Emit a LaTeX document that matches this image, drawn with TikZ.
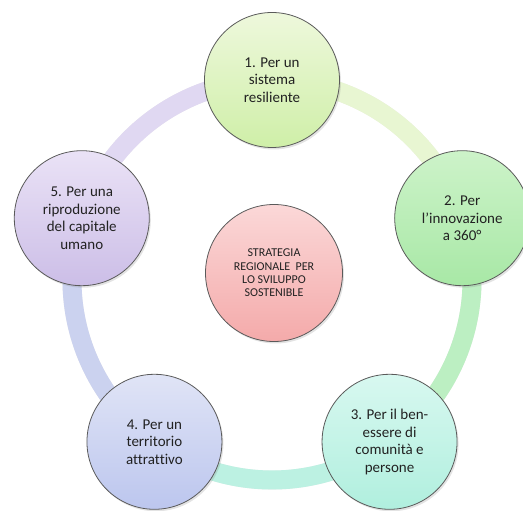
\documentclass[tikz,border=0pt]{standalone}
\usepackage{fontspec}
\setmainfont{Carlito}[Ligatures=NoCommon]
\usetikzlibrary{shadows}
\definecolor{txt}{HTML}{222222}
\definecolor{rimc}{HTML}{5A5A5A}
\definecolor{ca}{HTML}{EEF8DC}\definecolor{cab}{HTML}{CFEFA8}
\definecolor{cb}{HTML}{CDF3C9}\definecolor{cbb}{HTML}{A8E8A6}
\definecolor{cc}{HTML}{D8F8F0}\definecolor{ccb}{HTML}{B0EFDE}
\definecolor{cd}{HTML}{E0E4F6}\definecolor{cdb}{HTML}{BCC6EE}
\definecolor{ce}{HTML}{EAE2F6}\definecolor{ceb}{HTML}{CCBEE7}
\definecolor{cm}{HTML}{FBD8D8}\definecolor{cmb}{HTML}{F4AAAA}
\definecolor{rea}{HTML}{E0D8F2}
\definecolor{rab}{HTML}{E8F6D2}
\definecolor{rbc}{HTML}{BCEFC2}
\definecolor{rcd}{HTML}{BCF1E2}
\definecolor{rde}{HTML}{CBD2EF}
\begin{document}
\begin{tikzpicture}[x=1pt,y=1pt,
  bubble/.style={circle, draw=rimc, line width=0.8pt, minimum size=135pt,
    inner sep=0pt, align=center, text=txt,
    font=\fontsize{15}{17.5}\selectfont,
    drop shadow={opacity=0.22, shadow xshift=1.5pt, shadow yshift=-2pt}},
  ringseg/.style={line width=19pt},
  ringshadow/.style={line width=19pt, draw=black, opacity=0.07}
]
\useasboundingbox (0,0) rectangle (523,511);
\coordinate (O) at (272,231);
% positions of the five stations on the ring
\coordinate (p1) at ([shift={(O)}]90:200);
\coordinate (p2) at ([shift={(O)}]18:200);
\coordinate (p3) at ([shift={(O)}]-54:200);
\coordinate (p4) at ([shift={(O)}]-126:200);
\coordinate (p5) at ([shift={(O)}]162:200);
% ring shadows
\begin{scope}[shift={(1,-2.5)}]
\draw[ringshadow] (p5) arc[start angle=162, end angle=-198, radius=200];
\end{scope}
% ring segments
\draw[ringseg, draw=rea] (p5) arc[start angle=162, end angle=90, radius=200];
\draw[ringseg, draw=rab] (p1) arc[start angle=90, end angle=18, radius=200];
\draw[ringseg, draw=rbc] (p2) arc[start angle=18, end angle=-54, radius=200];
\draw[ringseg, draw=rcd] (p3) arc[start angle=-54, end angle=-126, radius=200];
\draw[ringseg, draw=rde] (p4) arc[start angle=-126, end angle=-198, radius=200];
% circles
\node[bubble, top color=ca, bottom color=cab] (n1) at (p1) {1. Per un\\sistema\\resiliente};
\node[bubble, top color=cb, bottom color=cbb] (n2) at (p2) {2. Per\\l’innovazione\\a 360°};
\node[bubble, top color=cc, bottom color=ccb] (n3) at (p3) {3. Per il ben-\\essere di\\comunità e\\persone};
\node[bubble, top color=cd, bottom color=cdb] (n4) at (p4) {4. Per un\\territorio\\attrattivo};
\node[bubble, top color=ce, bottom color=ceb] (n5) at (p5) {5. Per una\\riproduzione\\del capitale\\umano};
\node[bubble, top color=cm, bottom color=cmb, minimum size=137pt,
  font=\fontsize{12}{13.4}\selectfont] (c) at (274,238)
  {STRATEGIA\\REGIONALE\ \ PER\\LO SVILUPPO\\SOSTENIBLE};
\end{tikzpicture}
\end{document}
